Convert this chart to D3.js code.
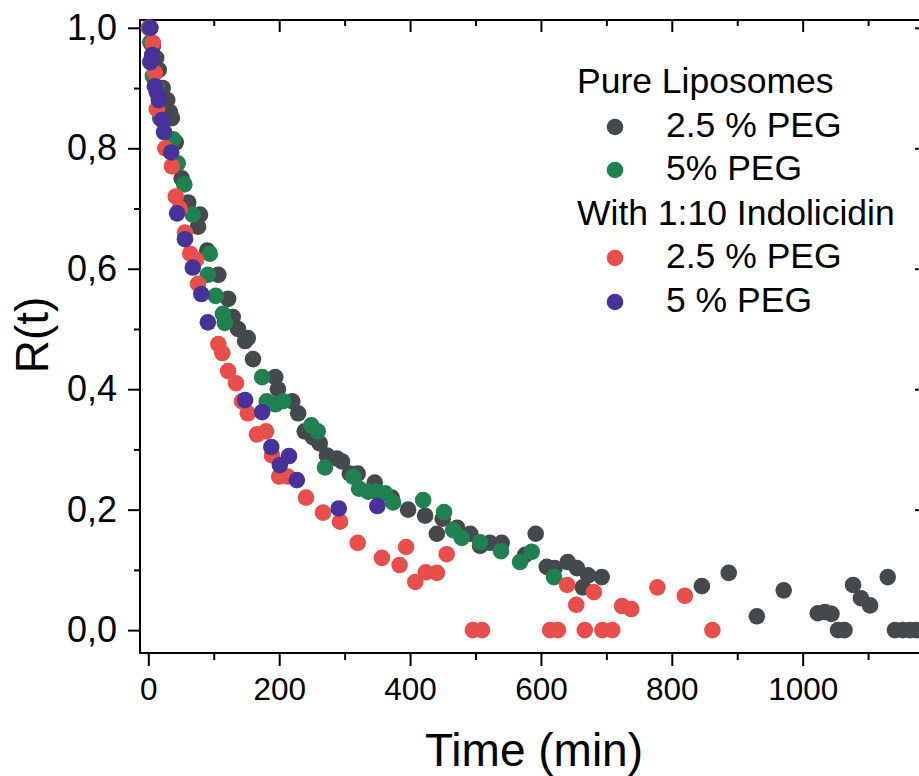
<!DOCTYPE html>
<html>
<head>
<meta charset="utf-8">
<script src="https://cdn.jsdelivr.net/npm/d3@7"></script>
<style>
  html, body { margin: 0; padding: 0; background: #fff; }
  svg { display: block; font-family: "Liberation Sans", Arial, sans-serif; }
</style>
</head>
<body>
<svg id="chart" width="919" height="776"></svg>
<script>
// R(t) decay
const pure25Time = [3, 7, 12, 16, 22, 29, 33, 36, 42, 51, 61, 79, 76, 90, 107, 122, 129, 137, 148, 152,
  160, 194, 198, 220, 229, 239, 252, 262, 273, 288, 296, 308, 320, 346, 372, 397, 423, 441, 450, 472,
  492, 507, 522, 540, 576, 592, 609, 621, 641, 655, 664, 672, 693, 846, 887, 930, 971, 1023, 1034, 1044,
  1054, 1064, 1077, 1089, 1103, 1130, 1141, 1153, 1164, 1174];
const pure25R = [1.00, 0.97, 0.95, 0.93, 0.90, 0.88, 0.86, 0.85, 0.81, 0.75, 0.71, 0.69, 0.67, 0.63, 0.59, 0.55, 0.52, 0.50, 0.48, 0.485,
  0.45, 0.42, 0.40, 0.38, 0.36, 0.33, 0.32, 0.31, 0.29, 0.285, 0.28, 0.26, 0.26, 0.245, 0.22, 0.20, 0.19, 0.16, 0.185, 0.17,
  0.16, 0.14, 0.145, 0.145, 0.125, 0.16, 0.105, 0.103, 0.113, 0.103, 0.071, 0.091, 0.088, 0.073, 0.095, 0.023, 0.066, 0.028, 0.03, 0.027,
  0, 0, 0.075, 0.053, 0.041, 0.088, 0, 0, 0, 0];

const pure5Time = [1, 3, 7, 13, 18, 38, 45, 55, 68, 94, 91, 103, 114, 117, 174, 181, 194, 206, 249, 259,
  270, 313, 322, 336, 348, 362, 374, 420, 452, 466, 479, 507, 539, 568, 586, 620];
const pure5R = [1.0, 0.976, 0.92, 0.90, 0.85, 0.815, 0.775, 0.74, 0.69, 0.625, 0.59, 0.555, 0.525, 0.51, 0.42, 0.38, 0.375, 0.38, 0.34, 0.33,
  0.27, 0.255, 0.235, 0.23, 0.23, 0.227, 0.212, 0.216, 0.196, 0.166, 0.153, 0.146, 0.131, 0.113, 0.13, 0.088];

const indo25Time = [1, 7, 10, 13, 26, 36, 42, 48, 56, 64, 73, 76, 107, 113, 122, 134, 143, 152, 166, 180,
  189, 200, 213, 241, 267, 293, 320, 357, 384, 394, 408, 424, 441, 456, 496, 510, 614, 626, 640, 654,
  667, 681, 694, 709, 724, 738, 778, 820, 862];
const indo25R = [1.0, 0.975, 0.925, 0.865, 0.80, 0.77, 0.72, 0.70, 0.66, 0.625, 0.615, 0.575, 0.475, 0.46, 0.43, 0.41, 0.38, 0.36, 0.325, 0.33,
  0.29, 0.255, 0.255, 0.22, 0.195, 0.18, 0.145, 0.12, 0.108, 0.138, 0.08, 0.096, 0.095, 0.126, 0, 0, 0, 0, 0.075, 0.042,
  0, 0.063, 0, 0, 0.04, 0.035, 0.071, 0.057, 0];

const indo5Time = [3, 6, 3, 10, 13, 16, 21, 24, 35, 44, 56, 68, 81, 91, 148, 174, 188, 201, 215, 227, 291, 350];
const indo5R = [1.0, 0.955, 0.943, 0.903, 0.893, 0.88, 0.847, 0.827, 0.793, 0.692, 0.649, 0.602, 0.558, 0.511,
  0.382, 0.362, 0.304, 0.274, 0.289, 0.249, 0.202, 0.206];

const xTicks = [0, 200, 400, 600, 800, 1000];
const xMinorTicks = [100, 300, 500, 700, 900, 1100];
const yTicks = [0, 0.2, 0.4, 0.6, 0.8, 1.0];
const yMinorTicks = [0.1, 0.3, 0.5, 0.7, 0.9];

const series = [
  { name: '2.5 % PEG', color: '#45494c', time: pure25Time, r: pure25R },
  { name: '5% PEG', color: '#1f8050', time: pure5Time, r: pure5R },
  { name: '2.5 % PEG', color: '#e84f4a', time: indo25Time, r: indo25R },
  { name: '5 % PEG', color: '#47329a', time: indo5Time, r: indo5R }
];

const margin = { top: 20, right: -8, bottom: 123, left: 140 };
const width = 919 - margin.left - margin.right;
const height = 776 - margin.top - margin.bottom;
const radius = 8.3;

const svg = d3.select('#chart');
const g = svg.append('g').attr('transform', `translate(${margin.left},${margin.top})`);

const x = d3.scaleLinear().domain([-12.7, 1190]).range([0, width]);
const y = d3.scaleLinear().domain([-0.038, 1.013]).range([height, 0]);

const fmtX = d3.format('d');
const fmtY = d => d3.format('.1f')(d).replace('.', ',');

// axes: major + minor on all four sides, labels only bottom/left
function styleAxis(sel) {
  sel.select('.domain').remove();
  sel.selectAll('line').attr('stroke', '#000').attr('stroke-width', 2);
}

g.append('g')
  .attr('transform', `translate(0,${height})`)
  .call(d3.axisBottom(x).tickValues(xTicks).tickFormat(fmtX).tickSize(13).tickPadding(12))
  .call(styleAxis)
  .selectAll('text').attr('font-size', 31.5).attr('fill', '#000');
g.append('g')
  .attr('transform', `translate(0,${height})`)
  .call(d3.axisBottom(x).tickValues(xMinorTicks).tickSize(7).tickFormat(''))
  .call(styleAxis);
g.append('g')
  .call(d3.axisTop(x).tickValues(xTicks).tickSize(-12).tickFormat(''))
  .call(styleAxis);
g.append('g')
  .call(d3.axisTop(x).tickValues(xMinorTicks).tickSize(-6).tickFormat(''))
  .call(styleAxis);

g.append('g')
  .call(d3.axisLeft(y).tickValues(yTicks).tickFormat(fmtY).tickSize(12).tickPadding(11))
  .call(styleAxis)
  .selectAll('text').attr('font-size', 36).attr('fill', '#000');
g.append('g')
  .call(d3.axisLeft(y).tickValues(yMinorTicks).tickSize(6).tickFormat(''))
  .call(styleAxis);
g.append('g')
  .attr('transform', `translate(${width},0)`)
  .call(d3.axisRight(y).tickValues(yTicks).tickSize(-12).tickFormat(''))
  .call(styleAxis);
g.append('g')
  .attr('transform', `translate(${width},0)`)
  .call(d3.axisRight(y).tickValues(yMinorTicks).tickSize(-6).tickFormat(''))
  .call(styleAxis);

g.append('rect')
  .attr('width', width)
  .attr('height', height)
  .attr('fill', 'none')
  .attr('stroke', '#000')
  .attr('stroke-width', 2);

// points, drawn in legend order
series.forEach(s => {
  g.append('g')
    .selectAll('circle')
    .data(d3.zip(s.time, s.r))
    .join('circle')
    .attr('cx', d => x(d[0]))
    .attr('cy', d => y(d[1]))
    .attr('r', radius)
    .attr('fill', s.color);
});

// axis titles
svg.append('text')
  .attr('x', 534)
  .attr('y', 766)
  .attr('text-anchor', 'middle')
  .attr('font-size', 46)
  .text('Time (min)');

svg.append('text')
  .attr('transform', 'translate(48,335) rotate(-90)')
  .attr('text-anchor', 'middle')
  .attr('font-size', 46)
  .text('R(t)');

// legend
const legend = svg.append('g').attr('font-size', 35.5);
const legendRows = [
  { label: 'Pure Liposomes', baseline: 93 },
  { label: series[0].name, color: series[0].color, baseline: 137 },
  { label: series[1].name, color: series[1].color, baseline: 180 },
  { label: 'With 1:10 Indolicidin', baseline: 225 },
  { label: series[2].name, color: series[2].color, baseline: 268 },
  { label: series[3].name, color: series[3].color, baseline: 312 }
];
legendRows.forEach(row => {
  if (row.color) {
    legend.append('circle')
      .attr('cx', 615)
      .attr('cy', row.baseline - 10)
      .attr('r', radius)
      .attr('fill', row.color);
    legend.append('text').attr('x', 666).attr('y', row.baseline).text(row.label);
  } else {
    legend.append('text').attr('x', 577).attr('y', row.baseline).text(row.label);
  }
});
</script>
</body>
</html>
